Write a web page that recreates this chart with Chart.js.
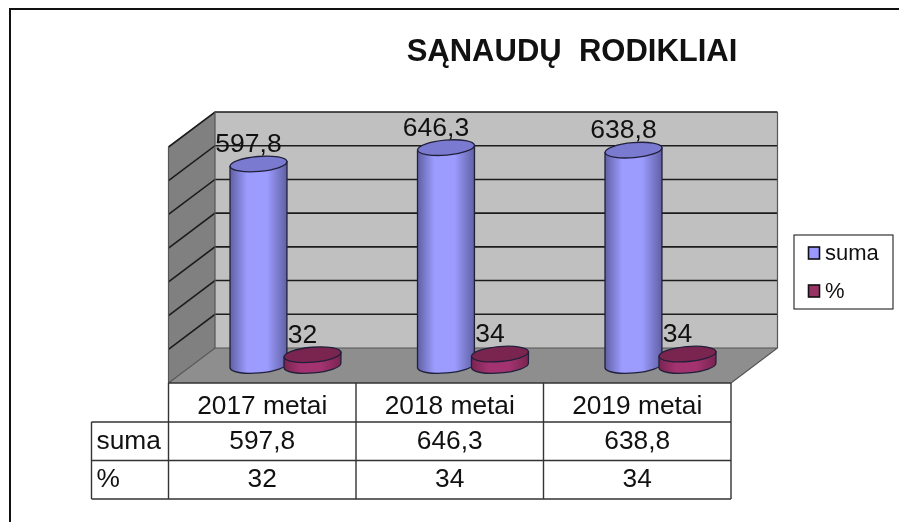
<!DOCTYPE html>
<html>
<head>
<meta charset="utf-8">
<script src="https://cdn.jsdelivr.net/npm/chart.js@4/dist/chart.umd.min.js"></script>
<style>
  html, body { margin: 0; padding: 0; background: #fff; }
  canvas { display: block; }
</style>
</head>
<body>
<canvas id="grafikas" width="899" height="522"></canvas>
<script>
// duomenys
const categories = ['2017 metai', '2018 metai', '2019 metai'];
const suma = [597.8, 646.3, 638.8];
const procentai = [32, 34, 34];
const yTicks = [0, 100, 200, 300, 400, 500, 600, 700];
const seriesNames = ['suma', '%'];
const title = 'SĄNAUDŲ  RODIKLIAI';

const FONT = '"Liberation Sans", Arial, sans-serif';
const DX = 46.5, DY = 35;   // gylis 3D
const spalvos = [
  { edge: '#6060a4', mid: '#9c9cff', top: '#7a7ad0', swatch: '#9999ff' },
  { edge: '#7a2450', mid: '#a33370', top: '#7a2450', swatch: '#993366' }
];

function kablelis(v) {
  return String(v).replace('.', ',');
}

function sienos(chart) {
  const c = chart.ctx, a = chart.chartArea, y = chart.scales.y;
  // back wall
  c.fillStyle = '#c0c0c0';
  c.fillRect(a.left + DX, a.top - DY, a.right - a.left, a.bottom - a.top);
  // side wall
  c.fillStyle = '#808080';
  c.beginPath();
  c.moveTo(a.left, a.top);
  c.lineTo(a.left + DX, a.top - DY);
  c.lineTo(a.left + DX, a.bottom - DY);
  c.lineTo(a.left, a.bottom);
  c.closePath();
  c.fill();
  // floor
  c.fillStyle = '#8e8e8e';
  c.beginPath();
  c.moveTo(a.left, a.bottom);
  c.lineTo(a.left + DX, a.bottom - DY);
  c.lineTo(a.right + DX, a.bottom - DY);
  c.lineTo(a.right, a.bottom);
  c.closePath();
  c.fill();
  // grid
  c.strokeStyle = '#1c1c1c';
  c.lineWidth = 1.6;
  yTicks.forEach(t => {
    if (t === 0) return;
    const py = y.getPixelForValue(t);
    c.beginPath();
    c.moveTo(a.left, py);
    c.lineTo(a.left + DX, py - DY);
    c.lineTo(a.right + DX, py - DY);
    c.stroke();
  });
  // outline
  c.strokeStyle = '#555';
  c.lineWidth = 1.2;
  c.beginPath();
  c.moveTo(a.left, a.bottom);
  c.lineTo(a.left + DX, a.bottom - DY);
  c.lineTo(a.right + DX, a.bottom - DY);
  c.moveTo(a.right, a.bottom);
  c.lineTo(a.right + DX, a.bottom - DY);
  c.lineTo(a.right + DX, a.top - DY);
  c.moveTo(a.left + DX, a.bottom - DY);
  c.lineTo(a.left + DX, a.top - DY);
  c.moveTo(a.left, a.bottom);
  c.lineTo(a.left, a.top);
  c.stroke();
}

function cilindras(c, cx, topY, baseY, w, sp) {
  const rx = w / 2, ry = 7.5, rot = -0.085;
  const sin = Math.sin(rot) * rx;
  const g = c.createLinearGradient(cx - rx, 0, cx + rx, 0);
  g.addColorStop(0, sp.edge);
  g.addColorStop(0.3, sp.mid);
  g.addColorStop(0.65, sp.mid);
  g.addColorStop(1, sp.edge);
  c.strokeStyle = '#20203a';
  c.lineWidth = 1.3;
  c.fillStyle = g;
  c.beginPath();
  c.moveTo(cx - rx, topY - sin);
  c.lineTo(cx - rx, baseY - sin);
  c.ellipse(cx, baseY, rx, ry, rot, Math.PI, 0, true);
  c.lineTo(cx + rx, topY + sin);
  c.closePath();
  c.fill();
  c.stroke();
  c.fillStyle = sp.top;
  c.beginPath();
  c.ellipse(cx, topY, rx, ry, rot, 0, Math.PI * 2);
  c.fill();
  c.stroke();
}

function lentele(chart) {
  const c = chart.ctx, a = chart.chartArea;
  const rows = [a.bottom, 422, 460.5, 499];
  const colW = (a.right - a.left) / categories.length;
  c.strokeStyle = '#333';
  c.lineWidth = 1.4;
  c.beginPath();
  for (let i = 0; i <= categories.length; i++) {
    c.moveTo(a.left + colW * i, rows[0]);
    c.lineTo(a.left + colW * i, rows[3]);
  }
  c.moveTo(a.left, rows[0]);
  c.lineTo(a.right, rows[0]);
  [1, 2, 3].forEach(r => {
    c.moveTo(91.5, rows[r]);
    c.lineTo(a.right, rows[r]);
  });
  c.moveTo(91.5, rows[1]);
  c.lineTo(91.5, rows[3]);
  c.stroke();

  c.fillStyle = '#111';
  c.font = '26.3px ' + FONT;
  c.textBaseline = 'middle';
  c.textAlign = 'center';
  categories.forEach((k, i) => {
    const x = a.left + colW * (i + 0.5);
    c.fillText(k, x, 407);
    c.fillText(kablelis(suma[i]), x, 442);
    c.fillText(kablelis(procentai[i]), x, 480);
  });
  c.textAlign = 'left';
  c.fillText(seriesNames[0], 96.5, 442);
  c.fillText(seriesNames[1], 96.5, 480);
}

function legenda(chart) {
  const c = chart.ctx;
  c.strokeStyle = '#333';
  c.lineWidth = 1.2;
  c.strokeRect(794, 235, 99, 74);
  seriesNames.forEach((n, i) => {
    const y = 253 + i * 38;
    c.fillStyle = spalvos[i].swatch;
    c.strokeStyle = '#111';
    c.lineWidth = 1.6;
    c.fillRect(808.5, y - 6, 11, 12);
    c.strokeRect(808.5, y - 6, 11, 12);
    c.fillStyle = '#111';
    c.font = '22px ' + FONT;
    c.textAlign = 'left';
    c.textBaseline = 'middle';
    c.fillText(n, 825, y + 1);
  });
}

const cilindrai = {
  id: 'cilindrai',
  beforeDatasetsDraw(chart) {
    const c = chart.ctx;
    c.save();
    // remelis
    c.strokeStyle = '#111';
    c.lineWidth = 2;
    c.beginPath();
    c.moveTo(10, 522);
    c.lineTo(10, 9);
    c.lineTo(899, 9);
    c.stroke();
    sienos(chart);
    c.restore();
  },
  afterDatasetsDraw(chart) {
    const c = chart.ctx;
    c.save();
    categories.forEach((k, i) => {
      chart.data.datasets.forEach((ds, d) => {
        const bar = chart.getDatasetMeta(d).data[i];
        cilindras(c, bar.x + DX / 2, bar.y - DY / 2, bar.base - DY / 2, bar.width + 3, spalvos[d]);
      });
      chart.data.datasets.forEach((ds, d) => {
        const bar = chart.getDatasetMeta(d).data[i];
        c.fillStyle = '#111';
        c.font = '26.5px ' + FONT;
        c.textAlign = 'center';
        c.textBaseline = 'middle';
        c.fillText(kablelis(ds.data[i]), bar.x + DX / 2 - 10, bar.y - DY / 2 - 19);
      });
    });
    lentele(chart);
    legenda(chart);
    c.fillStyle = '#111';
    c.font = 'bold 31px ' + FONT;
    c.textAlign = 'center';
    c.textBaseline = 'middle';
    c.fillText(title, 572, 52);
    c.restore();
  }
};

new Chart(document.getElementById('grafikas'), {
  type: 'bar',
  data: {
    labels: categories,
    datasets: [
      { label: seriesNames[0], data: suma, backgroundColor: 'transparent' },
      { label: seriesNames[1], data: procentai, backgroundColor: 'transparent' }
    ]
  },
  options: {
    responsive: false,
    animation: false,
    layout: { padding: { left: 168.5, right: 168, top: 147, bottom: 139 } },
    categoryPercentage: 0.576,
    barPercentage: 1,
    plugins: { legend: { display: false }, title: { display: false }, tooltip: { enabled: false } },
    scales: {
      x: { display: false },
      y: { display: false, min: 0, max: 700 }
    }
  },
  plugins: [cilindrai]
});
</script>
</body>
</html>
